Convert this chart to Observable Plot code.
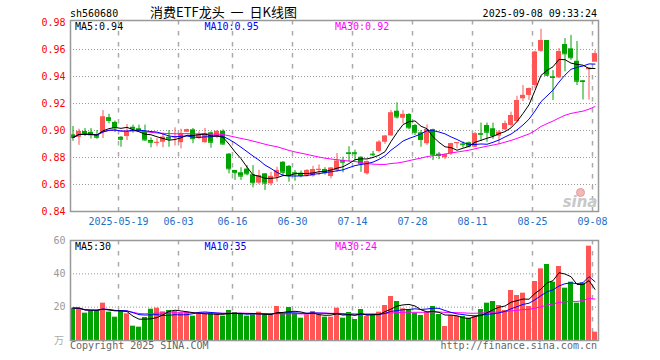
<!DOCTYPE html>
<html><head><meta charset="utf-8">
<script src="https://cdn.jsdelivr.net/npm/d3@7"></script>
<script src="https://cdn.jsdelivr.net/npm/@observablehq/plot@0.6"></script>
<style>
body{margin:0;background:#fff;}
#wrap{position:relative;width:660px;height:360px;overflow:hidden;}
#wrap > svg, #wrap > div{position:absolute;left:0;}
</style></head><body><div id="wrap"></div>
<script>
// ---- data ----
const opens  = [.8968,.895,.8993,.8987,.8968,.8985,.9095,.906,.895,.8955,.9024,.9013,.899,.8926,.8905,.8913,.895,.8945,.891,.8987,
                .9005,.894,.891,.8983,.895,.8995,.8825,.8704,.8687,.8714,.8672,.861,.8679,.8605,.8654,.8765,.8735,.8687,.8684,.8667,
                .8662,.8705,.8711,.8659,.8704,.8778,.8835,.8835,.8802,.868,.8825,.8845,.8913,.896,.9143,.9091,.9119,.9037,.8983,.8902,
                .9007,.8825,.8798,.8827,.8905,.890,.8909,.8876,.8978,.9037,.9013,.8958,.9005,.9037,.9067,.9235,.926,.9333,.9587,.9667,
                .9398,.939,.9637,.9605,.9513,.9368,.945,.9506];
const highs  = [.903,.901,.9014,.9014,.900,.9148,.912,.907,.8955,.9044,.904,.904,.904,.8946,.894,.898,.900,.902,.901,.901,
                .9015,.899,.9015,.899,.900,.9005,.883,.8705,.8724,.874,.874,.8705,.868,.869,.8728,.877,.874,.8704,.870,.871,
                .8735,.8745,.8725,.8725,.883,.8802,.888,.8855,.8805,.8775,.8845,.8925,.8962,.9148,.9205,.9148,.9125,.9045,.900,.9042,
                .901,.8838,.8825,.8905,.891,.8915,.8915,.8985,.9055,.9055,.9055,.900,.907,.9136,.9254,.9333,.9315,.9587,.975,.9667,
                .9444,.9607,.9681,.9705,.9659,.937,.9465,.959];
const lows   = [.892,.889,.8955,.8937,.8935,.894,.905,.8985,.8876,.8926,.898,.899,.892,.8872,.888,.8872,.8876,.8885,.8864,.8985,
                .8902,.8935,.8905,.8869,.894,.889,.8679,.863,.863,.8665,.8575,.860,.8556,.859,.8617,.8667,.8617,.8624,.865,.8655,
                .8655,.8665,.867,.8642,.869,.8687,.8765,.8775,.869,.867,.8805,.8835,.8898,.8955,.9085,.905,.9005,.8963,.8876,.889,
                .8778,.8785,.8785,.8815,.8865,.887,.887,.8872,.8918,.8913,.8935,.8895,.900,.9025,.9055,.9215,.9222,.9309,.958,.940,
                .9222,.9385,.9435,.952,.9333,.9226,.9225,.9545];
const closes = [.8948,.8993,.8976,.8968,.895,.910,.9075,.902,.8935,.8987,.9013,.900,.893,.8913,.8912,.895,.8937,.8955,.8976,.9005,
                .894,.897,.8976,.8913,.8993,.890,.8716,.8687,.8662,.8679,.8613,.8665,.861,.866,.8704,.8691,.8665,.868,.8667,.8704,
                .8711,.8712,.8687,.8721,.8773,.8765,.883,.8828,.8753,.877,.882,.8913,.8958,.913,.910,.9119,.902,.8987,.8933,.9007,
                .882,.8815,.8822,.8902,.891,.8895,.8884,.8975,.8972,.8987,.8963,.8987,.905,.9111,.9222,.926,.9311,.958,.9667,.941,
                .9393,.9585,.9568,.9539,.9365,.9363,.9462,.9568];
const volumes = [19.4,19.4,16.4,17.6,18,22.4,17,14,17.4,16,8.6,8,13.8,18.8,19.4,17.2,18,17.4,16.6,17,
                 14.6,16,16,16,16,14.6,18,16.8,16,14.6,15.4,17,15.4,15.4,20.4,16,19.8,16,13.4,15.4,
                 17.4,15.4,14,14,19.4,13.4,16.8,12.6,18.6,14.4,15.4,17,21,26.4,23.4,19,18.4,16.4,15,17,
                 20.4,15.6,8.4,15,14.6,14.4,13.4,14.4,18.6,22.4,23.4,21,18,30,27,28.4,20.4,35.4,43,45.6,
                 35,44.4,31.4,35,22.4,34.4,56.6,5];
const dateTicks  = [8, 18, 27, 37, 47, 57, 67, 77, 87];
const dateLabels = ["2025-05-19","06-03","06-16","06-30","07-14","07-28","08-11","08-25","09-08"];
const priceTicks = [0.84, 0.86, 0.88, 0.90, 0.92, 0.94, 0.96, 0.98];
const priceGrid  = [0.86, 0.88, 0.90, 0.92, 0.94, 0.96];
const volTicks   = [20, 40, 60];
const volGrid    = [20, 40];
const maNames    = ["MA5", "MA10", "MA30"];
const maPeriods  = [5, 10, 30];
const priceMaText = ["0.94", "0.95", "0.92"];
const volMaText   = ["30", "35", "24"];
const stockCode  = "sh560680";
const titleText  = "消费ETF龙头 一 日K线图";
const stamp      = "2025-09-08 09:33:24";
const volUnit    = "万";
const leftFoot   = "Copyright 2025 SINA.COM";
const rightFoot  = "http://finance.sina.com.cn";
const watermark  = "sina";

// ---- styling ----
const RED = "#ff5555", GREEN = "#00a300";
const MA_COLORS = ["#000000", "#0000ff", "#ff00ff"];
const MONO = "DejaVu Sans Mono, monospace";
const N = closes.length;
const idx = d3.range(N);
const colorOf = i => closes[i] >= opens[i] ? RED : GREEN;
const ma = (a, n) => a.map((_, i) => d3.mean(a.slice(Math.max(0, i - n + 1), i + 1)));
const BW = 5 / 6, MID = 2.5 / 6;

const gridMarks = (hGrid) => [
  Plot.ruleY(hGrid, {stroke: "#999", strokeDasharray: "1,2"}),
  Plot.ruleX(dateTicks, {stroke: "#aaa", strokeWidth: 1.5, strokeDasharray: "4.5,6.5"})
];

const priceMA = maPeriods.map(p => ma(closes, p));
const volMA = maPeriods.map(p => ma(volumes, p));

const price = Plot.plot({
  width: 660, height: 230, marginLeft: 70, marginRight: 62, marginTop: 20, marginBottom: 19,
  x: {type: "linear", domain: [0, N], axis: null},
  y: {domain: [0.84, 0.9815], axis: null},
  style: {background: "transparent", overflow: "visible"},
  marks: [
    ...gridMarks(priceGrid),
    Plot.dot([watermark], {frameAnchor: "bottom-right", dx: -18, dy: -19, r: 4, fill: "#f2b8b8", stroke: "#e89a9a", strokeWidth: 1}),
    Plot.text([watermark], {frameAnchor: "bottom-right", dx: -1, dy: -5, text: d => d, fill: "#c8c8c8",
      fontSize: 15, fontWeight: "bold", fontStyle: "italic", fontFamily: "DejaVu Sans", textAnchor: "end"}),
    Plot.ruleX(idx, {x: i => i + MID, y1: i => lows[i], y2: i => highs[i], stroke: colorOf, strokeWidth: 1}),
    Plot.rect(idx, {x1: i => i, x2: i => i + BW, y1: i => opens[i], y2: i => closes[i], fill: colorOf}),
    Plot.ruleY(idx, {x1: i => i, x2: i => i + BW, y: i => closes[i], stroke: colorOf, strokeWidth: 1}),
    ...[2, 1, 0].map(k => Plot.line(idx, {x: i => i + MID, y: i => priceMA[k][i], stroke: MA_COLORS[k], strokeWidth: 1})),
    Plot.frame({stroke: "#999", strokeWidth: 1.5}),
    Plot.text(priceTicks, {y: d => d, text: d => d.toFixed(2), frameAnchor: "left", textAnchor: "end", dx: -5,
      fill: "#ff0000", fontSize: 10, fontFamily: MONO}),
    Plot.text(dateTicks, {x: d => d, text: (d, i) => dateLabels[i], frameAnchor: "bottom", dy: 10,
      lineAnchor: "middle", fill: "#1e6fc8", fontSize: 10, fontFamily: MONO})
  ]
});

const vol = Plot.plot({
  width: 660, height: 130, marginLeft: 70, marginRight: 62, marginTop: 10, marginBottom: 20,
  x: {type: "linear", domain: [0, N], axis: null},
  y: {domain: [0, 60], axis: null},
  style: {background: "transparent", overflow: "visible"},
  marks: [
    ...gridMarks(volGrid),
    Plot.rect(idx, {x1: i => i, x2: i => i + BW, y1: 0, y2: i => volumes[i], fill: colorOf}),
    ...[2, 1, 0].map(k => Plot.line(idx, {x: i => i + MID, y: i => volMA[k][i], stroke: MA_COLORS[k], strokeWidth: 1})),
    Plot.frame({stroke: "#999", strokeWidth: 1.5}),
    Plot.text(volTicks, {y: d => d, text: d => String(d), frameAnchor: "left", textAnchor: "end", dx: -5,
      fill: "#999", fontSize: 10, fontFamily: MONO})
  ]
});

const wrap = document.getElementById("wrap");
price.style.top = "0px";
vol.style.top = "230px";
wrap.appendChild(price);
wrap.appendChild(vol);

const ov = d3.select(wrap).append("svg").attr("width", 660).attr("height", 360).style("top", "0px")
  .style("pointer-events", "none").style("font-family", MONO).style("font-size", "10px");
ov.append("text").attr("x", 70).attr("y", 16.5).text(stockCode).attr("fill", "#000");
ov.append("text").attr("x", 223.5).attr("y", 16.5).attr("text-anchor", "middle")
  .style("font-family", "Noto Sans CJK SC, sans-serif").style("font-size", "13px").style("word-spacing", "3px").text(titleText);
ov.append("text").attr("x", 597).attr("y", 16.5).attr("text-anchor", "end").text(stamp);
const maX = [75, 204.5, 335];
maNames.forEach((n, i) => {
  ov.append("text").attr("x", maX[i]).attr("y", 29.5).attr("fill", MA_COLORS[i]).text(n + ":" + priceMaText[i]);
  ov.append("text").attr("x", maX[i]).attr("y", 250).attr("fill", MA_COLORS[i]).text(n + ":" + volMaText[i]);
});
ov.append("text").attr("x", 64).attr("y", 344).attr("text-anchor", "end").attr("fill", "#aaa")
  .style("font-family", "Noto Sans CJK SC, sans-serif").style("font-size", "10px").text(volUnit);
ov.append("text").attr("x", 70).attr("y", 349).attr("fill", "#666").text(leftFoot);
ov.append("text").attr("x", 597).attr("y", 349).attr("text-anchor", "end").attr("fill", "#666").text(rightFoot);
</script></body></html>
